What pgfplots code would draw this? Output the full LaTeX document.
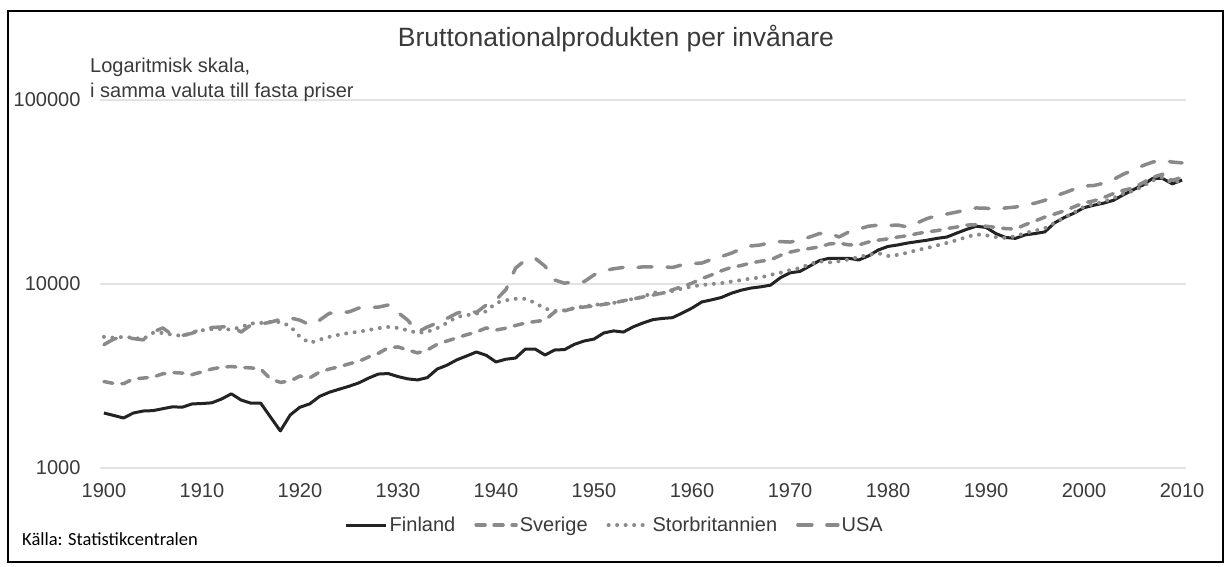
\documentclass[border=0pt]{standalone}
\usepackage{pgfplots}
\pgfplotsset{compat=1.18}
\usepackage{fontspec}
\setmainfont{Liberation Sans}
\newfontfamily\calibri{Carlito}
\definecolor{fin}{HTML}{232323}
\definecolor{gr}{HTML}{8A8A8A}
\definecolor{txt}{HTML}{3A3A3A}
\definecolor{gridc}{HTML}{E3E3E3}
\begin{document}
\begin{tikzpicture}[x=1pt,y=1pt]
\fill[white] (0,0) rectangle (1231,567);
\draw[black, line width=2pt] (8,5) rectangle (1223,556);
\begin{axis}[
  at={(100pt,99pt)}, anchor=south west,
  scale only axis, width=1086pt, height=368pt,
  xmin=1899.6, xmax=2010.4, ymin=1000, ymax=100000,
  ymode=log,
  axis line style={draw=none},
  major tick length=0pt, minor tick length=0pt,
  yminorticks=false, minor y tick style={draw=none},
  ytick={1000,10000,100000}, yticklabels={1000,10000,100000},
  xtick={1900,1910,1920,1930,1940,1950,1960,1970,1980,1990,2000,2010},
  xticklabels={1900,1910,1920,1930,1940,1950,1960,1970,1980,1990,2000,2010},
  ymajorgrids, grid style={gridc, line width=1.3pt},
  tick label style={font=\fontsize{20}{24}\selectfont, text=txt},
  yticklabel style={anchor=east, xshift=-16pt},
  xticklabel style={anchor=north, yshift=-12pt},
  legend columns=4,
  legend style={at={(0.474,-0.155)}, anchor=center, draw=none, fill=none,
    font=\fontsize{20}{24}\selectfont, text=txt,
    /tikz/every even column/.append style={column sep=17pt}},
  legend image code/.code={\draw[#1] (0pt,0pt) -- (40pt,0pt);},
  clip=false,
]
\addplot[fin, line width=3pt, line join=round] coordinates {
(1900,1990)(1901,1930)(1902,1870)(1903,1990)(1904,2040)(1905,2050)(1906,2100)(1907,2150)(1908,2140)(1909,2230)
(1910,2240)(1911,2260)(1912,2370)(1913,2530)(1914,2340)(1915,2250)(1916,2250)(1917,1890)(1918,1590)(1919,1940)
(1920,2140)(1921,2230)(1922,2450)(1923,2580)(1924,2680)(1925,2780)(1926,2900)(1927,3080)(1928,3240)(1929,3260)
(1930,3140)(1931,3050)(1932,3010)(1933,3100)(1934,3450)(1935,3620)(1936,3870)(1937,4060)(1938,4270)(1939,4100)
(1940,3770)(1941,3900)(1942,3960)(1943,4430)(1944,4430)(1945,4110)(1946,4380)(1947,4400)(1948,4700)(1949,4900)
(1950,5020)(1951,5420)(1952,5560)(1953,5480)(1954,5850)(1955,6140)(1956,6400)(1957,6500)(1958,6560)(1959,6950)
(1960,7400)(1961,7990)(1962,8200)(1963,8450)(1964,8900)(1965,9250)(1966,9500)(1967,9650)(1968,9850)(1969,10800)
(1970,11500)(1971,11700)(1972,12500)(1973,13400)(1974,13800)(1975,13800)(1976,13800)(1977,13500)(1978,14200)(1979,15300)
(1980,16000)(1981,16300)(1982,16700)(1983,17000)(1984,17300)(1985,17700)(1986,18000)(1987,18900)(1988,19800)(1989,20600)
(1990,20300)(1991,18800)(1992,17900)(1993,17700)(1994,18500)(1995,18800)(1996,19200)(1997,21500)(1998,23000)(1999,24300)
(2000,26000)(2001,26800)(2002,27500)(2003,28500)(2004,30500)(2005,32500)(2006,34500)(2007,37500)(2008,37500)(2009,35000)
(2010,36700)};
\addlegendentry{Finland}
\addplot[gr, line width=3.5pt, line cap=round, line join=round, dash pattern=on 9pt off 9pt] coordinates {
(1900,2950)(1901,2880)(1902,2870)(1903,3050)(1904,3080)(1905,3120)(1906,3250)(1907,3300)(1908,3280)(1909,3220)
(1910,3330)(1911,3450)(1912,3530)(1913,3560)(1914,3520)(1915,3500)(1916,3450)(1917,3050)(1918,2920)(1919,2970)
(1920,3160)(1921,3090)(1922,3320)(1923,3450)(1924,3550)(1925,3680)(1926,3800)(1927,4010)(1928,4200)(1929,4500)
(1930,4550)(1931,4380)(1932,4220)(1933,4380)(1934,4700)(1935,4900)(1936,5090)(1937,5300)(1938,5480)(1939,5770)
(1940,5620)(1941,5750)(1942,5950)(1943,6140)(1944,6250)(1945,6360)(1946,7050)(1947,7150)(1948,7400)(1949,7500)
(1950,7590)(1951,7750)(1952,7890)(1953,8100)(1954,8300)(1955,8500)(1956,8700)(1957,8930)(1958,9290)(1959,9700)
(1960,10100)(1961,10700)(1962,11200)(1963,11800)(1964,12300)(1965,12600)(1966,13000)(1967,13300)(1968,13500)(1969,14300)
(1970,14900)(1971,15300)(1972,15600)(1973,15900)(1974,16500)(1975,16700)(1976,16300)(1977,16300)(1978,16900)(1979,17300)
(1980,17600)(1981,18000)(1982,18300)(1983,18800)(1984,19200)(1985,19500)(1986,20000)(1987,20400)(1988,20900)(1989,21000)
(1990,20600)(1991,20300)(1992,20000)(1993,19900)(1994,21000)(1995,22000)(1996,23100)(1997,24000)(1998,25000)(1999,26300)
(2000,27600)(2001,28300)(2002,29500)(2003,31000)(2004,32300)(2005,33200)(2006,35500)(2007,38000)(2008,39500)(2009,36600)
(2010,38000)};
\addlegendentry{Sverige}
\addplot[gr, line width=4pt, line cap=round, dash pattern=on 0pt off 8.5pt] coordinates {
(1900,5160)(1901,5100)(1902,5160)(1903,5100)(1904,5020)(1905,5420)(1906,5420)(1907,5300)(1908,5220)(1909,5420)
(1910,5600)(1911,5680)(1912,5700)(1913,5650)(1914,5840)(1915,6100)(1916,6140)(1917,6220)(1918,6220)(1919,5900)
(1920,5160)(1921,4780)(1922,4980)(1923,5160)(1924,5300)(1925,5420)(1926,5500)(1927,5620)(1928,5750)(1929,5840)
(1930,5770)(1931,5600)(1932,5420)(1933,5500)(1934,5750)(1935,6150)(1936,6620)(1937,6770)(1938,6900)(1939,7100)
(1940,7890)(1941,8150)(1942,8310)(1943,8310)(1944,7890)(1945,7350)(1946,7130)(1947,7200)(1948,7400)(1949,7550)
(1950,7700)(1951,7800)(1952,7890)(1953,8100)(1954,8300)(1955,8500)(1956,9000)(1957,8930)(1958,9150)(1959,9450)
(1960,9700)(1961,9870)(1962,10000)(1963,10100)(1964,10300)(1965,10500)(1966,10700)(1967,10850)(1968,11200)(1969,11500)
(1970,11900)(1971,12200)(1972,12800)(1973,13300)(1974,13100)(1975,13300)(1976,13600)(1977,14000)(1978,14400)(1979,14700)
(1980,14200)(1981,14400)(1982,14800)(1983,15300)(1984,15700)(1985,16200)(1986,16700)(1987,17300)(1988,18000)(1989,18600)
(1990,18400)(1991,18000)(1992,17800)(1993,18200)(1994,18900)(1995,19500)(1996,20100)(1997,21500)(1998,23000)(1999,24500)
(2000,26300)(2001,27200)(2002,28000)(2003,29300)(2004,31000)(2005,32000)(2006,34000)(2007,36500)(2008,38000)(2009,35500)
(2010,36500)};
\addlegendentry{Storbritannien}
\addplot[gr, line width=3.5pt, line cap=round, line join=round, dash pattern=on 14pt off 15pt] coordinates {
(1900,4680)(1901,5020)(1902,5160)(1903,5050)(1904,4970)(1905,5480)(1906,5770)(1907,5280)(1908,5250)(1909,5400)
(1910,5770)(1911,5800)(1912,5840)(1913,5900)(1914,5480)(1915,5990)(1916,6060)(1917,6200)(1918,6430)(1919,6540)
(1920,6360)(1921,5990)(1922,6360)(1923,6930)(1924,7000)(1925,7050)(1926,7400)(1927,7450)(1928,7490)(1929,7690)
(1930,7000)(1931,6360)(1932,5480)(1933,5840)(1934,6140)(1935,6500)(1936,6930)(1937,7230)(1938,7000)(1939,7690)
(1940,8200)(1941,9290)(1942,12200)(1943,13500)(1944,13800)(1945,12500)(1946,10500)(1947,10100)(1948,10300)(1949,10300)
(1950,11200)(1951,11800)(1952,12100)(1953,12300)(1954,12200)(1955,12400)(1956,12400)(1957,12400)(1958,12300)(1959,12700)
(1960,12900)(1961,13000)(1962,13600)(1963,14100)(1964,14700)(1965,15500)(1966,16100)(1967,16300)(1968,16800)(1969,17000)
(1970,16900)(1971,17300)(1972,18000)(1973,18800)(1974,18900)(1975,18000)(1976,19200)(1977,19900)(1978,20600)(1979,20900)
(1980,20800)(1981,20900)(1982,20400)(1983,21500)(1984,22700)(1985,23500)(1986,24000)(1987,24600)(1988,25300)(1989,25900)
(1990,25800)(1991,25500)(1992,25900)(1993,26200)(1994,26900)(1995,27500)(1996,28500)(1997,30000)(1998,31300)(1999,32800)
(2000,34100)(2001,34300)(2002,35300)(2003,37000)(2004,39500)(2005,41500)(2006,44000)(2007,46000)(2008,47000)(2009,46000)
(2010,45500)};
\addlegendentry{USA}
\end{axis}
\node[anchor=base, text=txt, font=\fontsize{26.5}{30}\selectfont] at (616,520) {Bruttonationalprodukten per invånare};
\node[anchor=base west, inner sep=0pt, text=txt, font=\fontsize{20}{24}\selectfont] at (90,494) {Logaritmisk skala,};
\node[anchor=base west, inner sep=0pt, text=txt, font=\fontsize{20}{24}\selectfont] at (90,469) {i samma valuta till fasta priser};
\node[anchor=base west, inner sep=0pt, text=black, font=\calibri\fontsize{18.5}{21}\selectfont] at (22,21) {Källa: Statistikcentralen};
\end{tikzpicture}
\end{document}
